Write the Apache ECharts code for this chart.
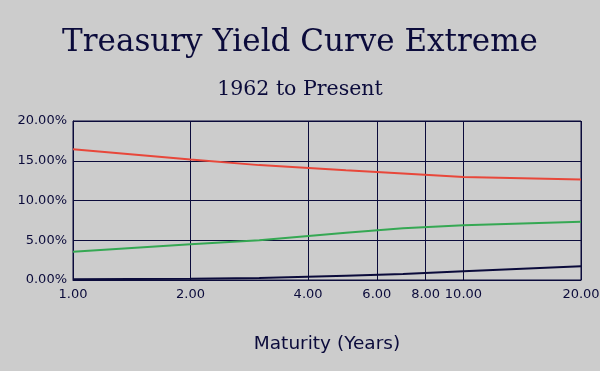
<!DOCTYPE html>
<html><head><meta charset="utf-8">
<script src="https://cdn.jsdelivr.net/npm/echarts@6/dist/echarts.min.js"></script>
<style>html,body{margin:0;padding:0;background:#cccccc}#c{width:600px;height:371px}</style>
</head><body><div id="c"></div>
<script>
const maturities = [1, 2, 3, 5, 7, 10, 20];
const tickValues = [1, 2, 4, 6, 8, 10, 20];
const highCurve = [16.45, 15.15, 14.45, 13.8, 13.4, 12.95, 12.65];
const midCurve = [3.56, 4.5, 5.0, 5.95, 6.5, 6.9, 7.33];
const lowCurve = [0.1, 0.17, 0.25, 0.55, 0.75, 1.09, 1.72];
const yTicks = [0, 5, 10, 15, 20];

const navy = '#0b0b3b';
const pair = arr => maturities.map((m, i) => [m, arr[i]]);
const chart = echarts.init(document.getElementById('c'), null, {renderer: 'canvas'});
chart.setOption({
  backgroundColor: '#cccccc',
  animation: false,
  title: [
    {text: 'Treasury Yield Curve Extreme', left: 'center', top: 22,
     textStyle: {fontFamily: 'DejaVu Serif', fontSize: 31, fontWeight: 'normal', color: navy}},
    {text: '1962 to Present', left: 'center', top: 74,
     textStyle: {fontFamily: 'DejaVu Serif', fontSize: 20.5, fontWeight: 'normal', color: navy}}
  ],
  grid: {left: 73, right: 19, top: 121, bottom: 91, show: true, borderColor: navy, borderWidth: 1,
    outerBoundsMode: 'none', containLabel: false},
  xAxis: {
    type: 'log', logBase: 10, min: 1, max: 20,
    name: 'Maturity (Years)', nameLocation: 'middle', nameGap: 55,
    nameTextStyle: {fontFamily: 'DejaVu Sans', fontSize: 18.5, color: navy},
    axisLine: {show: true, lineStyle: {color: navy}},
    axisTick: {show: false, customValues: tickValues},
    axisLabel: {customValues: tickValues, fontFamily: 'DejaVu Sans', fontSize: 13, color: navy,
      margin: 8, formatter: v => Number(v).toFixed(2)},
    splitLine: {show: true, lineStyle: {color: navy, width: 1}}
  },
  yAxis: {
    type: 'value', min: 0, max: 20, interval: 5,
    axisLine: {show: true, lineStyle: {color: navy}},
    axisTick: {show: false},
    axisLabel: {fontFamily: 'DejaVu Sans', fontSize: 13, color: navy, margin: 6,
      formatter: v => v.toFixed(2) + '%'},
    splitLine: {show: true, lineStyle: {color: navy, width: 1}}
  },
  series: [
    {type: 'line', data: pair(highCurve), showSymbol: false, lineStyle: {color: '#e8473a', width: 2}, itemStyle: {color: '#e8473a'}},
    {type: 'line', data: pair(midCurve), showSymbol: false, lineStyle: {color: '#35a853', width: 2}, itemStyle: {color: '#35a853'}},
    {type: 'line', data: pair(lowCurve), showSymbol: false, lineStyle: {color: '#0b0b3b', width: 2}, itemStyle: {color: '#0b0b3b'}}
  ]
});
</script></body></html>
